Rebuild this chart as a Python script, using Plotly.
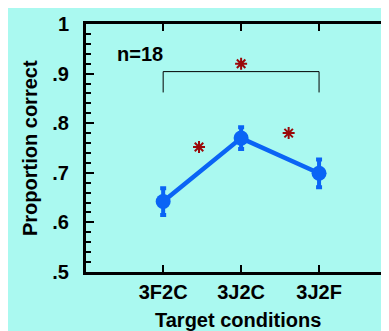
import plotly.graph_objects as go

categories = ["3F2C", "3J2C", "3J2F"]
means = [0.642, 0.770, 0.699]
errors = [0.027, 0.022, 0.028]
ytick_vals = [0.5, 0.6, 0.7, 0.8, 0.9, 1.0]
ytick_text = [".5", ".6", ".7", ".8", ".9", "1"]
bracket_x = [0, 0, 2, 2]
bracket_y = [0.862, 0.904, 0.904, 0.862]
star_x = [1.0, 0.46, 1.61]
star_y = [0.92, 0.752, 0.78]
n_label = "n=18"

BG = "#aaf9f0"
BLUE = "#0a64f5"
STAR = "#9a0a0a"
FONT = "Arial, Liberation Sans, sans-serif"

fig = go.Figure()
xi = list(range(len(categories)))
fig.add_trace(go.Scatter(
    x=xi, y=means, mode="lines+markers",
    line=dict(color=BLUE, width=4.5),
    marker=dict(color=BLUE, size=15),
    error_y=dict(type="data", array=errors, color=BLUE, thickness=4, width=3),
    showlegend=False, hoverinfo="skip"))
fig.add_trace(go.Scatter(
    x=bracket_x, y=bracket_y, mode="lines",
    line=dict(color="black", width=1), showlegend=False, hoverinfo="skip"))
fig.add_trace(go.Scatter(
    x=star_x, y=star_y, mode="markers",
    marker=dict(symbol="asterisk-open", size=10, color=STAR,
                line=dict(color=STAR, width=2)),
    showlegend=False, hoverinfo="skip"))

fig.add_annotation(x=-0.295, y=0.94, xref="x", yref="y", text=n_label,
                   showarrow=False, font=dict(size=20, family=FONT, color="black", weight="bold"))
fig.add_annotation(x=0, y=0.5, xref="paper", yref="paper", xshift=-56, text="Proportion correct",
                   showarrow=False, textangle=-90, xanchor="center", yanchor="middle",
                   font=dict(size=20, family=FONT, color="black", weight="bold"))
fig.add_annotation(x=0.49, y=0, xref="paper", yref="paper", yshift=-48, text="Target conditions",
                   showarrow=False, xanchor="center", yanchor="middle",
                   font=dict(size=20, family=FONT, color="black", weight="bold"))

fig.update_xaxes(
    range=[-0.99, 3.0], tickvals=xi, ticktext=categories,
    showline=True, linecolor="black", linewidth=3, mirror="ticks",
    ticks="inside", ticklen=7, tickwidth=2, tickcolor="black",
    showgrid=False, zeroline=False,
    tickfont=dict(size=20, family=FONT, color="black", weight="bold"))
fig.update_yaxes(
    range=[0.5, 1.0], tickvals=ytick_vals, ticktext=ytick_text,
    showline=True, linecolor="black", linewidth=3,
    ticks="inside", ticklen=8, tickwidth=2, tickcolor="black",
    minor=dict(dtick=0.02, tick0=0.5, ticks="inside", ticklen=5, tickwidth=2, tickcolor="black", showgrid=False),
    showgrid=False, zeroline=False, ticklabelstandoff=10,
    tickfont=dict(size=20, family=FONT, color="black", weight="bold"))

fig.update_layout(
    width=389, height=331,
    margin=dict(l=78, r=0, t=16, b=67),
    paper_bgcolor=BG, plot_bgcolor=BG,
    showlegend=False)

fig.write_html("out.html", config={"displayModeBar": False})
